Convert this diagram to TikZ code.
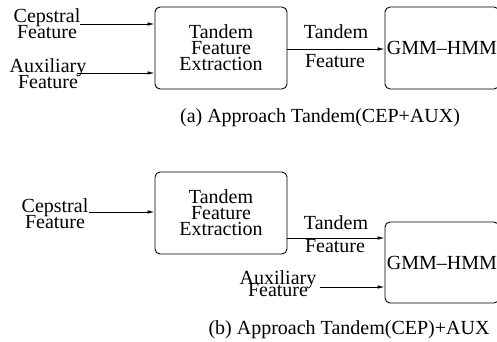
\documentclass[tikz,border=0pt]{standalone}
\usepackage{fontspec}
\setmainfont{Liberation Serif}
\usetikzlibrary{arrows.meta}
\newcommand\myfontA{\fontsize{20}{16}\selectfont\lineskiplimit=-30pt\relax}
\newcommand\myfontB{\fontsize{20}{12}\selectfont\lineskiplimit=-30pt\relax}
\begin{document}
\begin{tikzpicture}[x=1pt,y=-1pt,
  txt/.style={inner sep=0pt,align=center,font=\myfontA},
  box/.style={draw,line width=0.9pt,rounded corners=5pt,inner sep=0pt,align=center,font=\myfontA},
  arr/.style={line width=0.8pt,-{Latex[length=7pt,width=3.5pt]}}]
\useasboundingbox (0,0) rectangle (497,342);
\clip (0,0) rectangle (497,342);
% (a)
\node[box,minimum width=132pt,minimum height=82pt] (tfe1) at (221,48) {Tandem\\Feature\\Extraction};
\node[box,minimum width=114pt,minimum height=82pt] (gmm1) at (442,48) {GMM--HMM};
\node[txt] (cep1) at (47,24) {Cepstral\\Feature};
\node[txt] (aux1) at (48,74) {Auxiliary\\Feature};
\coordinate (cs1) at (80,24);
\coordinate (as1) at (77,73);
\draw[arr] (cs1) -- (cs1 -| tfe1.west);
\draw[arr] (as1) -- (as1 -| tfe1.west);
\draw[arr] (tfe1.east |- 0,49) -- (gmm1.west |- 0,49);
\node[txt] (lt1) at (336,32) {Tandem};
\node[txt] (lf1) at (335,61) {Feature};
\node[txt] (capa) at (320,118) {(a) Approach Tandem(CEP+AUX)};
% (b)
\node[box,minimum width=132pt,minimum height=82pt] (tfe2) at (221,213) {Tandem\\Feature\\Extraction};
\node[box,minimum width=114pt,minimum height=81pt] (gmm2) at (442,262.5) {GMM--HMM};
\node[txt] (cep2) at (55,214) {Cepstral\\Feature};
\node[txt,font=\myfontB] (aux2) at (278,284) {Auxiliary\\Feature};
\coordinate (cs2) at (89,212);
\coordinate (as2) at (320,287);
\draw[arr] (cs2) -- (cs2 -| tfe2.west);
\draw[arr] (tfe2.east |- 0,238) -- (gmm2.west |- 0,238);
\draw[arr] (as2) -- (as2 -| gmm2.west);
\node[txt] (lt2) at (336,223) {Tandem};
\node[txt] (lf2) at (335,246) {Feature};
\node[txt] (capb) at (349,330) {(b) Approach Tandem(CEP)+AUX};
\end{tikzpicture}
\end{document}
